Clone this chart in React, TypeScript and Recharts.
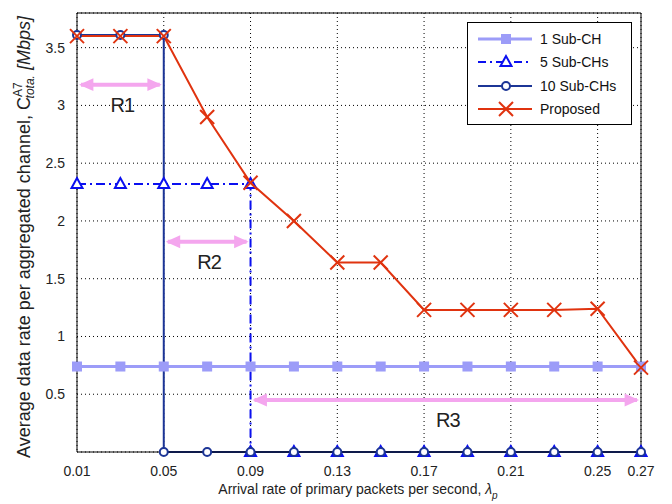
import React from "react";
import {
  CartesianGrid,
  Line,
  LineChart,
  ReferenceLine,
  XAxis,
  YAxis
} from "recharts";

// arrival rates (x) sampled by the simulation
const rates = [0.01, 0.03, 0.05, 0.07, 0.09, 0.11, 0.13, 0.15, 0.17, 0.19, 0.21, 0.23, 0.25, 0.27];
const xTicks = [0.01, 0.05, 0.09, 0.13, 0.17, 0.21, 0.25, 0.27];
const yTicks = [0, 0.5, 1, 1.5, 2, 2.5, 3, 3.5];

const oneSubCh = [0.74, 0.74, 0.74, 0.74, 0.74, 0.74, 0.74, 0.74, 0.74, 0.74, 0.74, 0.74, 0.74, 0.74];
const proposed = [3.6, 3.6, 3.6, 2.9, 2.33, 2.0, 1.64, 1.64, 1.23, 1.23, 1.23, 1.23, 1.24, 0.73];

// these two drop straight to zero, so x repeats at the drop
const fiveX = [0.01, 0.03, 0.05, 0.07, 0.09, 0.09, 0.11, 0.13, 0.15, 0.17, 0.19, 0.21, 0.23, 0.25, 0.27];
const fiveY = [2.32, 2.32, 2.32, 2.32, 2.32, 0, 0, 0, 0, 0, 0, 0, 0, 0, 0];
const tenX = [0.01, 0.03, 0.05, 0.05, 0.07, 0.09, 0.11, 0.13, 0.15, 0.17, 0.19, 0.21, 0.23, 0.25, 0.27];
const tenY = [3.61, 3.61, 3.61, 0, 0, 0, 0, 0, 0, 0, 0, 0, 0, 0, 0];

// region arrows: [label, from, to, level]
const regions: [string, number, number, number][] = [
  ["R1", 0.01, 0.05, 3.18],
  ["R2", 0.05, 0.09, 1.82],
  ["R3", 0.09, 0.27, 0.45]
];

const C_ONE = "#9c9cf8";
const C_FIVE = "#0b10f0";
const C_TEN = "#1c3596";
const C_PROP = "#e0330f";
const C_ARROW = "#f4a6ee";
const FONT = "'Liberation Sans', Arial, sans-serif";

const zip = (xs: number[], ys: number[]) => xs.map((x, i) => ({ x, y: ys[i] }));

const squareDot = (p: any) => (
  <rect key={p.index} x={p.cx - 5} y={p.cy - 5} width={10} height={10} fill={C_ONE} />
);
const triDot = (p: any) => (
  <polygon
    key={p.index}
    points={`${p.cx},${p.cy - 6} ${p.cx - 5.5},${p.cy + 4} ${p.cx + 5.5},${p.cy + 4}`}
    fill="#fff"
    stroke={C_FIVE}
    strokeWidth={2}
  />
);
const circDot = (p: any) => (
  <circle key={p.index} cx={p.cx} cy={p.cy} r={4} fill="#fff" stroke={C_TEN} strokeWidth={2} />
);
const crossDot = (p: any) => (
  <g key={p.index} stroke={C_PROP} strokeWidth={2}>
    <line x1={p.cx - 7} y1={p.cy - 7} x2={p.cx + 7} y2={p.cy + 7} />
    <line x1={p.cx - 7} y1={p.cy + 7} x2={p.cx + 7} y2={p.cy - 7} />
  </g>
);

function ArrowShape(props: any) {
  const { x1, y1, x2, label } = props;
  const y = y1;
  const a = 4;
  const h = 9;
  return (
    <g>
      <line x1={x1 + a} y1={y} x2={x2 - a} y2={y} stroke={C_ARROW} strokeWidth={4} />
      <polygon points={`${x1 + 2},${y} ${x1 + 2 + h * 1.6},${y - h / 1.4} ${x1 + 2 + h * 1.6},${y + h / 1.4}`} fill={C_ARROW} />
      <polygon points={`${x2 - 2},${y} ${x2 - 2 - h * 1.6},${y - h / 1.4} ${x2 - 2 - h * 1.6},${y + h / 1.4}`} fill={C_ARROW} />
      <text
        x={(x1 + x2) / 2 + 2}
        y={y + 27}
        textAnchor="middle"
        fontSize={20}
        fontFamily={FONT}
        fill="#222"
        style={{ letterSpacing: -1 }}
      >
        {label}
      </text>
    </g>
  );
}

function LegendBox() {
  const rows = [
    { name: "1 Sub-CH", color: C_ONE, width: 3, dash: undefined, mark: "sq" },
    { name: "5 Sub-CHs", color: C_FIVE, width: 2, dash: "8 4 2 4", mark: "tri" },
    { name: "10 Sub-CHs", color: C_TEN, width: 2, dash: undefined, mark: "circ" },
    { name: "Proposed", color: C_PROP, width: 2, dash: undefined, mark: "x" }
  ];
  return (
    <div
      style={{
        position: "absolute",
        left: 467,
        top: 22,
        width: 163,
        height: 101,
        border: "1px solid #000",
        background: "#fff",
        fontFamily: FONT,
        fontSize: 14,
        color: "#111"
      }}
    >
      {rows.map((r, i) => {
        const cy = 12;
        return (
          <div key={r.name} style={{ display: "flex", alignItems: "center", height: 23.5, marginTop: i === 0 ? 4 : 0 }}>
            <svg width={64} height={24} style={{ marginLeft: 8 }}>
              <line x1={2} y1={cy} x2={56} y2={cy} stroke={r.color} strokeWidth={r.width} strokeDasharray={r.dash} />
              {r.mark === "sq" ? squareDot({ cx: 30, cy, index: 0 }) : null}
              {r.mark === "tri" ? triDot({ cx: 30, cy, index: 0 }) : null}
              {r.mark === "circ" ? circDot({ cx: 30, cy, index: 0 }) : null}
              {r.mark === "x" ? crossDot({ cx: 30, cy, index: 0 }) : null}
            </svg>
            <span>{r.name}</span>
          </div>
        );
      })}
    </div>
  );
}

export default function App() {
  const tickStyle = { fill: "#222", fontSize: 14, fontFamily: FONT };
  return (
    <div style={{ position: "absolute", left: 0, top: 0, width: 672, height: 504, background: "#fff" }}>
      <LineChart width={672} height={504} margin={{ top: 13, right: 31, bottom: 22, left: 0 }}>
        <CartesianGrid stroke="#000" strokeDasharray="1 3" />
        <XAxis
          dataKey="x"
          type="number"
          domain={[0.01, 0.27]}
          ticks={xTicks}
          interval={0}
          height={30}
          tick={tickStyle}
          tickLine={false}
          axisLine={{ stroke: "#000" }}
          tickMargin={8}
          label={(p: any) => (
            <text x={358} y={494} textAnchor="middle" fontSize={14} fontFamily={FONT} fill="#222">
              Arrival rate of primary packets per second,{" "}
              <tspan fontStyle="italic">λ</tspan>
              <tspan fontSize={10} dy={5} fontStyle="italic">p</tspan>
            </text>
          )}
        />
        <YAxis
          type="number"
          domain={[0, 3.8]}
          ticks={yTicks}
          interval={0}
          width={77}
          tick={tickStyle}
          tickFormatter={(v: number) => (v === 0 ? "" : String(v))}
          tickLine={false}
          axisLine={{ stroke: "#000" }}
          tickMargin={6}
          label={(p: any) => (
            <text
              transform="translate(30, 237) rotate(-90)"
              textAnchor="middle"
              fontSize={18}
              fontFamily={FONT}
              fill="#222"
            >
              Average data rate per aggregated channel, C
              <tspan fontSize={12} dy={-8}>A7</tspan>
              <tspan fontSize={12} dy={12} dx={-16} fontStyle="italic">tota.</tspan>
              <tspan dy={-4} fontStyle="italic"> [Mbps]</tspan>
            </text>
          )}
        />
        <ReferenceLine y={3.8} stroke="#000" ifOverflow="visible" />
        <ReferenceLine x={0.27} stroke="#000" ifOverflow="visible" />
        <Line
          data={zip(rates, oneSubCh)}
          dataKey="y"
          stroke={C_ONE}
          strokeWidth={3}
          dot={squareDot}
          isAnimationActive={false}
        />
        <Line
          data={zip(fiveX, fiveY)}
          dataKey="y"
          stroke={C_FIVE}
          strokeWidth={2}
          strokeDasharray="9 4 2 4"
          dot={triDot}
          isAnimationActive={false}
        />
        <Line
          data={zip(tenX, tenY)}
          dataKey="y"
          stroke={C_TEN}
          strokeWidth={2}
          dot={circDot}
          isAnimationActive={false}
        />
        <Line
          data={zip(rates, proposed)}
          dataKey="y"
          stroke={C_PROP}
          strokeWidth={2}
          dot={crossDot}
          isAnimationActive={false}
        />
        {regions.map(([label, from, to, level]) => (
          <ReferenceLine
            key={label}
            segment={[
              { x: from, y: level },
              { x: to, y: level }
            ]}
            shape={(p: any) => <ArrowShape {...p} label={label} />}
          />
        ))}
      </LineChart>
      <LegendBox />
    </div>
  );
}
